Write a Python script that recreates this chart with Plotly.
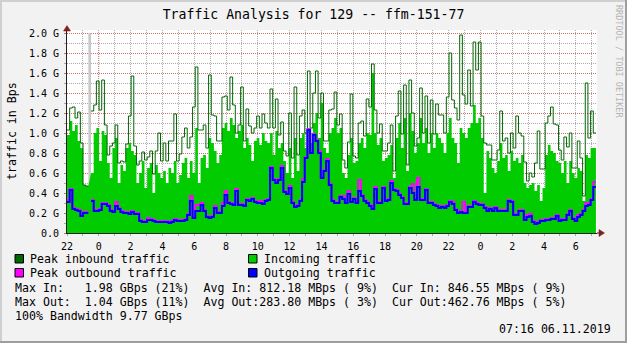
import pandas as pd
import plotly.graph_objects as go

# ---------------------------------------------------------------- data
title = "Traffic Analysis for 129 -- ffm-151-77"
start = "2019-11-04 22:00"
end = "2019-11-06 07:16"
view_end = "2019-11-06 07:20"

# values in G(Bps), one per sampling interval; None = unknown sample
peak_in = [
    1.03, 1.25, 1.26, 1.15, 1.21, 0.90, 0.48, 0.47, None, 1.22,
    1.28, 1.52, 1.23, 1.53, 1.08, 0.78, 0.87, 0.90, 1.08, 0.70,
    0.72, 0.71, 0.89, 1.17, 1.57, 0.87, 0.68, 0.72, 0.81, 0.73,
    0.76, 0.82, 0.59, 0.82, 1.00, 0.72, 0.90, 0.72, 0.92, 0.92,
    1.19, 0.72, 0.79, 0.96, 1.05, 0.85, 0.96, 1.26, 1.66, 1.03,
    1.03, 1.08, 0.85, 1.58, 1.18, 1.17, 0.92, 0.92, 1.36, 1.37,
    1.23, 1.56, 1.28, 1.00, 1.08, 1.46, 0.92, 1.24, 1.07, 1.00,
    1.05, 1.17, 1.05, 1.19, 1.10, 1.05, 1.44, 1.05, 1.34, 0.98,
    1.11, 0.82, 0.77, 1.20, 0.75, 1.46, 0.78, 1.17, 1.23, 1.00,
    1.62, 1.05, 1.40, 1.62, 1.15, 1.40, 0.92, 0.92, 1.23, 1.24,
    1.41, 1.08, 1.19, 0.73, 0.65, 0.91, 1.39, 0.77, 0.75, 1.10,
    1.12, 0.97, 1.34, 1.26, 1.69, 1.23, 1.00, 1.09, 0.82, 0.82,
    0.90, 1.08, 0.62, 1.17, 1.42, 0.99, 1.48, 0.68, 1.53, 1.20,
    0.87, 0.95, 1.45, 1.00, 1.37, 0.90, 1.33, 0.99, 1.29, 1.18,
    1.18, 1.00, 1.36, 1.80, 1.33, 1.25, 1.13, 1.98, 1.38, 1.29,
    1.63, 1.27, 1.91, 1.63, 1.91, 1.17, 0.90, 0.88, 0.88, 0.73,
    0.73, 0.83, 1.22, 0.92, 0.95, 0.80, 1.00, 0.85, 1.17, 1.00,
    0.97, 0.71, 0.52, 0.60, 0.56, 0.70, 1.02, 0.64, 0.64, 1.10,
    1.17, 1.26, 1.09, 1.08, 0.83, 0.73, 0.96, 0.86, 1.00, 0.65,
    0.65, 0.92, 0.75, 0.37, 1.50, 0.95, 1.22, 1.00,
]

incoming = [
    0.98, 1.12, 1.02, 1.08, 0.92, 0.85, 0.48, 0.47, None, 0.60,
    1.00, 1.05, 0.72, 1.02, 0.98, 0.70, 0.55, 0.85, 0.95, 0.50,
    0.68, 0.62, 0.85, 0.90, 0.82, 0.78, 0.50, 0.60, 0.72, 0.45,
    0.65, 0.70, 0.40, 0.68, 0.60, 0.55, 0.62, 0.50, 0.65, 0.60,
    0.72, 0.50, 0.58, 0.70, 0.75, 0.55, 0.72, 0.60, 1.05, 0.50,
    0.75, 0.78, 0.65, 0.95, 0.90, 0.82, 0.70, 0.78, 1.05, 1.10,
    1.02, 1.15, 1.08, 0.95, 1.02, 1.08, 0.85, 0.95, 0.88, 0.72,
    0.92, 0.95, 0.88, 1.00, 0.92, 0.90, 1.00, 0.78, 1.02, 0.85,
    0.90, 0.72, 0.60, 0.85, 0.55, 0.95, 0.62, 0.95, 1.00, 0.85,
    1.05, 0.90, 1.10, 1.20, 0.95, 1.30, 0.85, 0.80, 1.00, 1.05,
    1.15, 1.00, 1.05, 0.60, 0.55, 0.78, 0.95, 0.70, 0.72, 0.90,
    0.95, 0.85, 1.00, 0.98, 1.60, 1.00, 0.88, 0.95, 0.72, 0.75,
    0.78, 0.88, 0.55, 0.95, 1.10, 0.85, 1.15, 0.62, 1.20, 1.02,
    0.80, 0.90, 1.15, 0.90, 1.05, 0.80, 1.00, 0.85, 1.00, 0.95,
    0.90, 0.80, 1.00, 1.15, 0.95, 0.90, 0.70, 1.05, 1.00, 0.95,
    1.05, 1.10, 1.28, 1.10, 1.15, 0.95, 0.40, 0.82, 0.75, 0.65,
    0.60, 0.72, 0.90, 0.75, 0.78, 0.62, 0.82, 0.72, 0.75, 0.70,
    0.78, 0.50, 0.45, 0.48, 0.50, 0.42, 0.48, 0.32, 0.45, 0.78,
    0.88, 0.82, 0.80, 0.72, 0.70, 0.60, 0.72, 0.50, 0.72, 0.60,
    0.55, 0.65, 0.62, 0.32, 0.78, 0.75, 0.85, 0.85,
]

peak_out = [
    0.33, 0.44, 0.25, 0.24, 0.23, 0.19, 0.21, 0.21, None, 0.33,
    0.23, 0.23, 0.24, 0.30, 0.30, 0.28, 0.23, 0.22, 0.31, 0.25,
    0.22, 0.21, 0.21, 0.20, 0.22, 0.20, 0.20, 0.13, 0.12, 0.12,
    0.15, 0.14, 0.13, 0.12, 0.12, 0.12, 0.12, 0.12, 0.11, 0.12,
    0.14, 0.13, 0.13, 0.13, 0.14, 0.19, 0.37, 0.16, 0.28, 0.28,
    0.30, 0.23, 0.17, 0.16, 0.17, 0.27, 0.21, 0.21, 0.30, 0.42,
    0.31, 0.30, 0.29, 0.44, 0.29, 0.29, 0.28, 0.34, 0.33, 0.35,
    0.32, 0.31, 0.32, 0.30, 0.33, 0.34, 0.66, 0.54, 0.51, 0.54,
    0.67, 0.42, 0.40, 0.47, 0.31, 0.27, 0.28, 0.33, 0.54, 0.76,
    1.04, 0.81, 0.99, 0.93, 0.82, 0.56, 0.63, 0.74, 0.49, 0.33,
    0.31, 0.31, 0.37, 0.37, 0.31, 0.42, 0.32, 0.35, 0.32, 0.53,
    0.38, 0.33, 0.31, 0.28, 0.25, 0.46, 0.31, 0.31, 0.46, 0.33,
    0.34, 0.52, 0.44, 0.43, 0.39, 0.36, 0.30, 0.30, 0.46, 0.49,
    0.34, 0.55, 0.34, 0.34, 0.44, 0.31, 0.31, 0.29, 0.28, 0.26,
    0.27, 0.26, 0.28, 0.32, 0.31, 0.24, 0.21, 0.22, 0.31, 0.21,
    0.27, 0.27, 0.32, 0.30, 0.29, 0.29, 0.26, 0.23, 0.25, 0.23,
    0.26, 0.23, 0.23, 0.23, 0.23, 0.33, 0.32, 0.19, 0.19, 0.23,
    0.23, 0.14, 0.18, 0.19, 0.12, 0.10, 0.11, 0.13, 0.13, 0.14,
    0.14, 0.15, 0.15, 0.18, 0.13, 0.14, 0.14, 0.19, 0.23, 0.15,
    0.13, 0.18, 0.19, 0.23, 0.30, 0.29, 0.34, 0.51,
]

outgoing = [
    0.31, 0.43, 0.24, 0.23, 0.22, 0.17, 0.20, 0.20, None, 0.32,
    0.22, 0.22, 0.23, 0.29, 0.29, 0.27, 0.22, 0.21, 0.27, 0.24,
    0.21, 0.20, 0.20, 0.19, 0.21, 0.19, 0.19, 0.12, 0.11, 0.11,
    0.13, 0.13, 0.12, 0.11, 0.11, 0.11, 0.11, 0.11, 0.10, 0.11,
    0.13, 0.12, 0.12, 0.12, 0.13, 0.18, 0.32, 0.15, 0.22, 0.22,
    0.28, 0.22, 0.16, 0.15, 0.16, 0.25, 0.20, 0.20, 0.27, 0.38,
    0.30, 0.29, 0.28, 0.42, 0.28, 0.28, 0.27, 0.33, 0.32, 0.34,
    0.31, 0.30, 0.30, 0.29, 0.32, 0.33, 0.65, 0.53, 0.50, 0.53,
    0.65, 0.41, 0.39, 0.45, 0.30, 0.26, 0.27, 0.32, 0.51, 0.75,
    1.03, 0.80, 0.98, 0.92, 0.80, 0.55, 0.62, 0.72, 0.48, 0.32,
    0.30, 0.30, 0.36, 0.34, 0.30, 0.39, 0.31, 0.34, 0.30, 0.42,
    0.37, 0.32, 0.30, 0.27, 0.24, 0.44, 0.30, 0.30, 0.45, 0.32,
    0.33, 0.50, 0.43, 0.42, 0.38, 0.35, 0.29, 0.29, 0.45, 0.40,
    0.33, 0.46, 0.33, 0.33, 0.43, 0.30, 0.30, 0.28, 0.27, 0.25,
    0.26, 0.25, 0.27, 0.31, 0.29, 0.23, 0.20, 0.21, 0.20, 0.20,
    0.26, 0.26, 0.31, 0.29, 0.28, 0.28, 0.25, 0.22, 0.24, 0.22,
    0.25, 0.22, 0.22, 0.22, 0.22, 0.32, 0.31, 0.18, 0.18, 0.22,
    0.22, 0.13, 0.16, 0.17, 0.11, 0.09, 0.10, 0.12, 0.12, 0.13,
    0.13, 0.14, 0.14, 0.17, 0.12, 0.13, 0.13, 0.18, 0.22, 0.14,
    0.12, 0.16, 0.18, 0.22, 0.27, 0.28, 0.33, 0.46,
]

y_tickvals = [0.0, 0.2, 0.4, 0.6, 0.8, 1.0, 1.2, 1.4, 1.6, 1.8, 2.0]
y_ticktext = ["0.0", "0.2 G", "0.4 G", "0.6 G", "0.8 G", "1.0 G",
              "1.2 G", "1.4 G", "1.6 G", "1.8 G", "2.0 G"]

series_names = ["Peak inbound traffic", "Incoming traffic",
                "Peak outbound traffic", "Outgoing traffic"]
series_colors = ["#006600", "#00cc00", "#ff00ff", "#0000ff"]

stat_lines = [
    "Max In:   1.98 GBps (21%)  Avg In: 812.18 MBps ( 9%)  Cur In: 846.55 MBps ( 9%)",
    "Max Out:  1.04 GBps (11%)  Avg Out:283.80 MBps ( 3%)  Cur Out:462.76 MBps ( 5%)",
    "100% Bandwidth 9.77 GBps",
]
stamp = "07:16 06.11.2019"
watermark = "RRDTOOL / TOBI OETIKER"
y_label = "traffic in Bps"

# ---------------------------------------------------------------- geometry / style
W, H = 627, 343
L, R, T, B = 67, 597, 30, 233          # canvas edges in pixels
MONO = "DejaVu Sans Mono"
BACK = "#f2f2f2"
GRID = "rgba(143,143,143,0.75)"
MGRID = "rgba(222,79,79,0.6)"
AXIS = "#1f1f1f"
ARROW = "#801f1f"
DOTS = "1px,1px"


def px(x):
    return (x - L) / (R - L)


def py(y):
    return (B - y) / (B - T)


times = pd.date_range(start, end, periods=len(incoming) + 1)


def steps(vals):
    """Expand per-interval samples into a stepped polyline (None breaks it)."""
    xs, ys = [], []
    for i, v in enumerate(vals):
        if v is None:
            xs.append(None)
            ys.append(None)
            continue
        xs += [times[i], times[i + 1]]
        ys += [v, v]
    return xs, ys


fig = go.Figure()

x_in, y_in = steps(incoming)
fig.add_trace(go.Scatter(x=x_in, y=y_in, name=series_names[1], mode="lines",
                         fill="tozeroy", fillcolor=series_colors[1],
                         line=dict(color=series_colors[1], width=0),
                         connectgaps=False, hoverinfo="skip"))

x_pi, y_pi = steps(peak_in)
fig.add_trace(go.Scatter(x=x_pi, y=y_pi, name=series_names[0], mode="lines",
                         line=dict(color=series_colors[0], width=1),
                         connectgaps=False, hoverinfo="skip"))

x_po, y_po = steps(peak_out)
fig.add_trace(go.Scatter(x=x_po, y=y_po, name=series_names[2], mode="lines",
                         line=dict(color=series_colors[2], width=2),
                         connectgaps=False, hoverinfo="skip"))

x_out, y_out = steps(outgoing)
fig.add_trace(go.Scatter(x=x_out, y=y_out, name=series_names[3], mode="lines",
                         line=dict(color=series_colors[3], width=2),
                         connectgaps=False, hoverinfo="skip"))

shapes = []

# unknown samples are shaded grey over the full value range
for i, v in enumerate(incoming):
    if v is None:
        shapes.append(dict(type="rect", xref="x", yref="y",
                           x0=times[i], x1=times[i + 1], y0=0, y1=y_tickvals[-1],
                           fillcolor="#c8c8c8", line=dict(width=0), layer="between"))

# midnight lines use the major-grid colour
for day in pd.date_range(pd.Timestamp(start).normalize() + pd.Timedelta(days=1),
                         pd.Timestamp(view_end).normalize(), freq="D"):
    shapes.append(dict(type="line", xref="x", yref="y", x0=day, x1=day,
                       y0=0, y1=y_tickvals[-1],
                       line=dict(color=MGRID, width=1, dash=DOTS), layer="between"))

# axis arrows
shapes.append(dict(type="line", xref="paper", yref="paper",
                   x0=px(R), x1=px(600), y0=py(B), y1=py(B),
                   line=dict(color=AXIS, width=1)))
shapes.append(dict(type="path", xref="paper", yref="paper",
                   path=f"M {px(599)} {py(229.5)} L {px(604.5)} {py(233)} L {px(599)} {py(236.5)} Z",
                   fillcolor=ARROW, line=dict(color=ARROW, width=0.5)))
shapes.append(dict(type="path", xref="paper", yref="paper",
                   path=f"M {px(63.5)} {py(31)} L {px(67)} {py(25.5)} L {px(70.5)} {py(31)} Z",
                   fillcolor=ARROW, line=dict(color=ARROW, width=0.5)))

# 3D frame of the image
shapes.append(dict(type="line", xref="paper", yref="paper", x0=px(0), x1=px(W),
                   y0=py(1), y1=py(1), line=dict(color="#cfcfcf", width=2)))
shapes.append(dict(type="line", xref="paper", yref="paper", x0=px(1), x1=px(1),
                   y0=py(0), y1=py(H), line=dict(color="#cfcfcf", width=2)))
shapes.append(dict(type="line", xref="paper", yref="paper", x0=px(0), x1=px(W),
                   y0=py(H - 1), y1=py(H - 1), line=dict(color="#9e9e9e", width=2)))
shapes.append(dict(type="line", xref="paper", yref="paper", x0=px(W - 1), x1=px(W - 1),
                   y0=py(0), y1=py(H), line=dict(color="#9e9e9e", width=2)))

# legend swatches
legend_pos = [(15, 254.5), (248.5, 254.5), (15, 268.5), (248.5, 268.5)]
legend_order = [0, 1, 2, 3]
for (lx, ly), k in zip(legend_pos, legend_order):
    shapes.append(dict(type="rect", xref="paper", yref="paper",
                       x0=px(lx), x1=px(lx + 8.5), y0=py(ly), y1=py(ly + 8.5),
                       fillcolor=series_colors[k], line=dict(color="#000000", width=1)))

annotations = []


def label(text, x, y, size=11.6, xanchor="left", color="#000000", angle=0):
    annotations.append(dict(text=text.replace(" ", "\u00a0"), xref="paper", yref="paper",
                            x=px(x), y=py(y), xanchor=xanchor, yanchor="middle",
                            showarrow=False, borderpad=0, borderwidth=0, textangle=angle,
                            font=dict(family=MONO, size=size, color=color)))


for (lx, ly), k in zip(legend_pos, legend_order):
    label(series_names[k], lx + 15, ly + 4.5)

for n, line in enumerate(stat_lines):
    label(line, 15.2, 287.5 + 14 * n)

label(stamp, 611, 328.5, xanchor="right")
annotations.append(dict(text=y_label, xref="paper", yref="paper", x=px(11.5), y=py(131.5),
                        xanchor="center", yanchor="middle", showarrow=False, textangle=-90,
                        font=dict(family=MONO, size=11.6, color="#000000")))
annotations.append(dict(text=watermark, xref="paper", yref="paper", x=px(619), y=py(61),
                        xanchor="center", yanchor="middle", showarrow=False, textangle=90,
                        font=dict(family=MONO, size=8.5, color="#b4b4b4")))

fig.update_layout(
    width=W, height=H,
    margin=dict(l=L, r=W - R, t=T, b=H - B, pad=0),
    paper_bgcolor=BACK, plot_bgcolor="#ffffff",
    showlegend=False,
    font=dict(family=MONO, size=10, color="#000000"),
    title=dict(text=title, x=0.5, xref="container", xanchor="center",
               y=1 - 14 / H, yref="container", yanchor="middle",
               font=dict(family=MONO, size=13.2, color="#000000")),
    xaxis=dict(type="date", range=[start, view_end],
               tick0=start, dtick=2 * 3600 * 1000, tickformat="%-H",
               showgrid=True, gridcolor=GRID, griddash=DOTS, gridwidth=1,
               ticks="outside", ticklen=2, tickcolor=GRID,
               minor=dict(dtick=3600 * 1000, tick0=start, showgrid=True,
                          gridcolor=GRID, griddash=DOTS, gridwidth=1,
                          ticks="outside", ticklen=2, tickcolor=GRID),
               showline=True, linecolor=AXIS, linewidth=1, zeroline=False,
               ticklabelstandoff=2, tickfont=dict(family=MONO, size=10)),
    yaxis=dict(range=[0, (B - T) / 100], tickmode="array",
               tickvals=y_tickvals, ticktext=y_ticktext,
               showgrid=True, gridcolor=MGRID, griddash=DOTS, gridwidth=1,
               ticks="outside", ticklen=2, tickcolor=MGRID,
               minor=dict(tickmode="linear", tick0=0, dtick=0.1, showgrid=True,
                          gridcolor=GRID, griddash=DOTS, gridwidth=1,
                          ticks="outside", ticklen=2, tickcolor=GRID),
               showline=True, linecolor=AXIS, linewidth=1, zeroline=False,
               ticklabelstandoff=3, tickfont=dict(family=MONO, size=10)),
    shapes=shapes,
    annotations=annotations,
)

fig.write_html("out.html")
